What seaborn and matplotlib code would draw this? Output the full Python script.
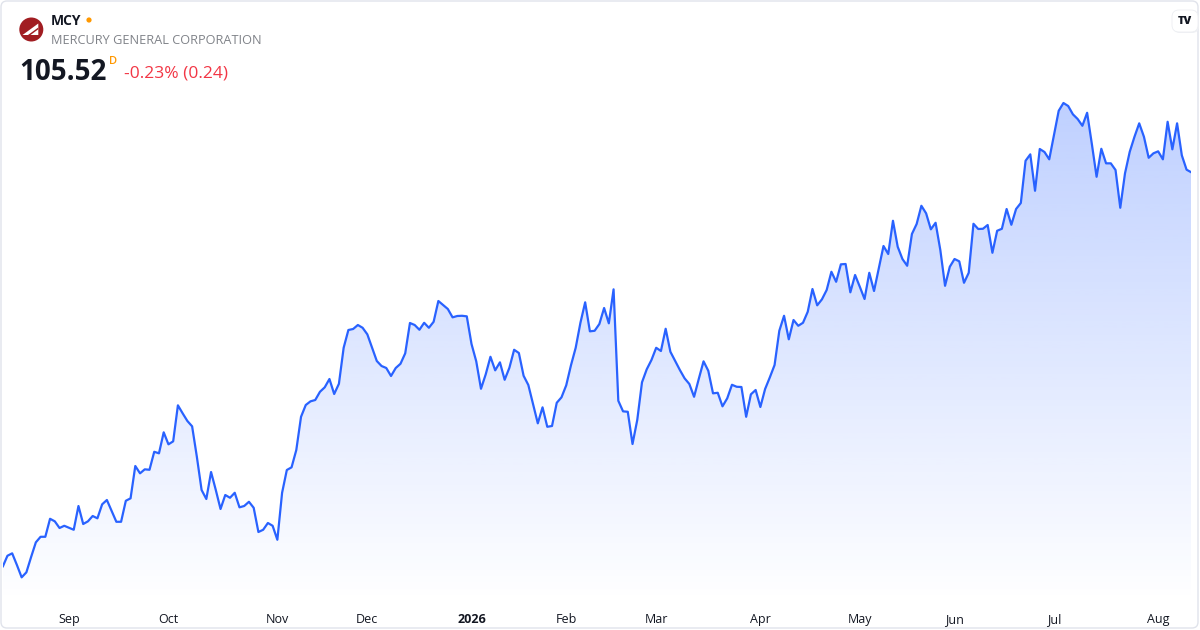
import numpy as np
import pandas as pd
import matplotlib
matplotlib.use("Agg")
import matplotlib.pyplot as plt
import seaborn as sns
from matplotlib.patches import Circle, FancyBboxPatch, Polygon

# daily closes, MCY (one per trading day)
prices = [
    70.02, 71.01, 71.23, 70.18, 69.07, 69.52, 70.90, 72.22, 72.72, 72.72,
    74.34, 74.11, 73.51, 73.71, 73.53, 73.35, 75.49, 73.87, 74.11, 74.59,
    74.38, 75.64, 76.03, 75.04, 74.07, 74.07, 75.96, 76.18, 79.09, 78.43,
    78.79, 78.75, 80.37, 80.23, 82.12, 81.04, 81.31, 84.55, 83.83, 83.14,
    82.66, 79.92, 76.93, 76.12, 78.55, 76.93, 75.22, 76.48, 76.23, 76.68,
    75.37, 75.49, 75.87, 75.33, 73.15, 73.35, 73.96, 73.71, 72.45, 76.68,
    78.73, 78.97, 80.53, 83.52, 84.58, 84.91, 85.03, 85.77, 86.17, 86.92,
    85.57, 86.49, 89.73, 91.33, 91.42, 91.78, 91.53, 90.94, 89.73, 88.54,
    88.09, 87.91, 87.19, 87.91, 88.29, 89.23, 91.96, 91.78, 91.35, 91.98,
    91.53, 92.07, 93.94, 93.58, 93.22, 92.47, 92.59, 92.61, 92.56, 90.07,
    88.51, 86.04, 87.34, 88.92, 87.70, 88.42, 86.85, 87.93, 89.55, 89.26,
    87.21, 86.38, 84.64, 82.93, 84.37, 82.62, 82.69, 84.78, 85.27, 86.35,
    88.15, 89.73, 91.98, 93.82, 91.21, 91.26, 91.87, 93.31, 91.93, 94.99,
    84.96, 84.01, 83.97, 81.07, 83.23, 86.62, 87.79, 88.63, 89.73, 89.44,
    91.44, 89.37, 88.56, 87.73, 86.98, 86.47, 85.32, 86.94, 88.51, 87.66,
    85.63, 85.68, 84.46, 85.18, 86.40, 86.22, 86.20, 83.52, 85.54, 85.93,
    84.40, 86.02, 87.07, 88.18, 91.26, 92.61, 90.49, 92.23, 91.71, 91.98,
    92.97, 95.02, 93.55, 94.09, 94.93, 96.57, 95.67, 97.24, 97.27, 94.72,
    96.28, 95.22, 94.12, 96.48, 94.84, 96.88, 98.89, 98.17, 101.16, 98.82,
    97.72, 97.11, 99.97, 100.87, 102.51, 101.83, 100.39, 100.98, 98.53, 95.31,
    97.02, 97.72, 97.51, 95.58, 96.48, 100.89, 100.42, 100.44, 100.78, 98.28,
    100.26, 100.44, 102.22, 100.80, 102.22, 102.76, 106.56, 107.14, 103.86, 107.62,
    107.35, 106.69, 108.88, 111.06, 111.76, 111.49, 110.74, 110.32, 109.71, 110.88,
    108.07, 105.12, 107.64, 106.33, 106.33, 105.73, 102.33, 105.43, 107.37, 108.72,
    109.93, 108.72, 106.83, 107.23, 107.41, 106.69, 110.07, 107.59, 109.93, 107.05,
    105.76, 105.52,
]

ticker = "MCY"
company = "MERCURY GENERAL CORPORATION"
last_price = "105.52"
change_text = "-0.23% (0.24)"

holidays = ["2025-09-01", "2025-11-27", "2025-12-25", "2026-01-01", "2026-01-19",
            "2026-02-16", "2026-04-03", "2026-05-25", "2026-06-19", "2026-07-03"]
dates = pd.bdate_range("2025-08-12", "2026-08-12", freq="C", holidays=holidays)

df = pd.DataFrame({"date": dates, "price": prices})
df["i"] = np.arange(len(df))

BLUE = "#2962ff"
W, H = 1200, 630

sns.set_style("white")
plt.rcParams["font.family"] = ["Open Sans", "DejaVu Sans"]

fig = plt.figure(figsize=(12, 6.3), dpi=100)
fig.patch.set_facecolor("white")

# plot area in pixels
x0, x1, ytop, ybot = 2.7, 1191.3, 95, 603
ax = fig.add_axes([x0 / W, 1 - ybot / H, (x1 - x0) / W, (ybot - ytop) / H])
ylo, yhi = 66.76, 112.48

sns.lineplot(data=df, x="i", y="price", ax=ax, color=BLUE, linewidth=1.6)

# gradient area under the line
poly = ax.fill_between(df["i"], df["price"], ylo, color="none", linewidth=0)
grad = np.zeros((256, 1, 4))
grad[:, 0, 0] = 41 / 255
grad[:, 0, 1] = 98 / 255
grad[:, 0, 2] = 1.0
grad[:, 0, 3] = np.linspace(0.30, 0.0, 256)
img = ax.imshow(grad, extent=[0, len(df) - 1, ylo, df["price"].max()],
                aspect="auto", origin="upper", zorder=1)
img.set_clip_path(poly.get_paths()[0], transform=ax.transData)

ax.set_xlim(0, len(df) - 1)
ax.set_ylim(ylo, yhi)
sns.despine(ax=ax, left=True, bottom=True)
ax.set_xlabel("")
ax.set_ylabel("")
ax.set_yticks([])

# month ticks at first trading day of each month
first = df.groupby(df["date"].dt.to_period("M"))["i"].min().iloc[1:]
labels = []
for per in first.index:
    labels.append(str(per.year) if per.month == 1 else per.strftime("%b"))
ax.set_xticks(first.values)
ax.set_xticklabels(labels, fontsize=9, color="#131722")
ax.tick_params(axis="x", length=0, pad=7)
for t in ax.get_xticklabels():
    if t.get_text().isdigit():
        t.set_fontweight("bold")

# overlay in pixel coordinates for header and frame
ov = fig.add_axes([0, 0, 1, 1], zorder=5)
ov.set_xlim(0, W)
ov.set_ylim(H, 0)
ov.axis("off")
ov.patch.set_alpha(0)

ov.add_patch(FancyBboxPatch((1, 1), W - 3, H - 3, boxstyle="round,pad=0,rounding_size=6",
                            fill=False, edgecolor="#e0e3eb", linewidth=1))

# logo
ov.add_patch(Circle((31.3, 29.5), 12, facecolor="#a11d22", edgecolor="none"))
ov.add_patch(Polygon([(22.5, 35), (38.3, 23.5), (38.3, 35)], closed=True,
                     facecolor="white", edgecolor="none"))
ov.add_patch(Polygon([(28, 35), (38.3, 27.5), (38.3, 29.3), (30.5, 35)], closed=True,
                     facecolor="#a11d22", edgecolor="none"))

ov.text(51, 21, ticker, fontsize=10, fontweight="bold", color="#131722", va="center")
ov.add_patch(Circle((89, 20), 2.6, facecolor="#ff9800", edgecolor="none"))
ov.text(51, 41, company, fontsize=9.2, color="#808389", va="center")
ov.text(19, 72, last_price, fontsize=20, fontweight="bold", color="#131722", va="center")
ov.text(109, 61, "D", fontsize=8, fontweight="semibold", color="#ff9800", va="center")
ov.text(124, 74, change_text, fontsize=12.5, color="#f23645", va="center")

# tradingview badge
ov.add_patch(FancyBboxPatch((1173, 11), 26, 22, boxstyle="round,pad=0,rounding_size=7",
                            facecolor="#f0f1f4", edgecolor="none"))
ov.add_patch(FancyBboxPatch((1172, 10), 26, 22, boxstyle="round,pad=0,rounding_size=7",
                            facecolor="white", edgecolor="#eceef2", linewidth=0.6))
ov.text(1185, 21, "TV", fontsize=8, fontweight="heavy", color="#131722",
        ha="center", va="center")

fig.savefig("out.png", dpi=100)
